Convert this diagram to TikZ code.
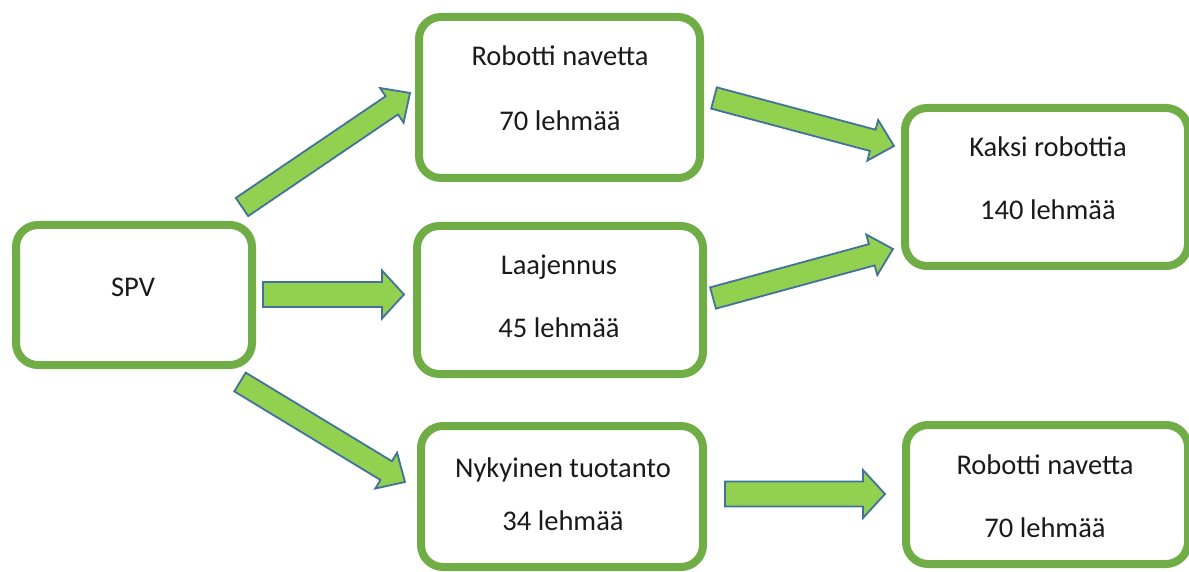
\documentclass[tikz,border=0pt]{standalone}
\usepackage{fontspec}
\setmainfont{Carlito}
\usetikzlibrary{calc}
\definecolor{boxgreen}{HTML}{70AD47}
\definecolor{arrfill}{HTML}{92D050}
\definecolor{arrline}{HTML}{41719C}
\definecolor{txt}{HTML}{1A1A1A}
\tikzset{
  box/.style={draw=boxgreen, line width=8pt, rounded corners=22pt, fill=white, inner sep=0pt, rectangle},
  lbl/.style={anchor=base, inner sep=0pt, text=txt, font=\fontsize{28.5}{34}\selectfont},
  blk/.style={draw=arrline, fill=arrfill, line width=1.8pt, line join=miter},
}
% #1 tail, #2 tip, #3 shaft half width, #4 head half width, #5 head length
\newcommand\blockarrow[5]{%
  \coordinate (#1h) at ($(#2)!#5!(#1)$);
  \draw[blk] ($(#1)!#3!90:(#2)$) -- ($(#1h)!#3!90:(#2)$) -- ($(#1h)!#4!90:(#2)$) -- (#2)
    -- ($(#1h)!#4!-90:(#2)$) -- ($(#1h)!#3!-90:(#2)$) -- ($(#1)!#3!-90:(#2)$) -- cycle;
}
\begin{document}
\begin{tikzpicture}[x=1pt,y=-1pt]
\useasboundingbox (0,0) rectangle (1189,572);
% boxes
\node[box, minimum width=236pt, minimum height=140pt] (spv) at (134,295) {};
\node[box, minimum width=281pt, minimum height=161pt] (rob1) at (559.5,97.5) {};
\node[box, minimum width=286pt, minimum height=148pt] (laa) at (560,300) {};
\node[box, minimum width=282pt, minimum height=141pt] (nyk) at (562,496.5) {};
\node[box, minimum width=283pt, minimum height=158pt] (kak) at (1046.5,187) {};
\node[box, minimum width=282pt, minimum height=139pt] (rob2) at (1047,494.5) {};
% texts
\node[lbl] (tspv) at (133,296) {SPV};
\node[lbl] (trob1a) at (560,66) {Robotti navetta};
\node[lbl] (trob1b) at (560,131) {70 lehmää};
\node[lbl] (tlaaa) at (559,274) {Laajennus};
\node[lbl] (tlaab) at (559,337) {45 lehmää};
\node[lbl] (tnyka) at (563,477) {Nykyinen tuotanto};
\node[lbl] (tnykb) at (563,530) {34 lehmää};
\node[lbl] (tkaka) at (1048,157) {Kaksi robottia};
\node[lbl] (tkakb) at (1048,220) {140 lehmää};
\node[lbl] (trob2a) at (1045,474) {Robotti navetta};
\node[lbl] (trob2b) at (1045,537) {70 lehmää};
% arrow end points
\coordinate (a1t) at (242,207); \coordinate (a1h) at (410,93);
\coordinate (a2t) at (263,294.5); \coordinate (a2h) at (404,294.5);
\coordinate (a3t) at (240,382); \coordinate (a3h) at (405,482);
\coordinate (a4t) at (714,98); \coordinate (a4h) at (894,146);
\coordinate (a5t) at (713,298); \coordinate (a5h) at (893,249);
\coordinate (a6t) at (725,494); \coordinate (a6h) at (885,494);
\blockarrow{a1t}{a1h}{11pt}{21pt}{22pt}
\blockarrow{a2t}{a2h}{12.5pt}{24pt}{22pt}
\blockarrow{a3t}{a3h}{11pt}{21pt}{22pt}
\blockarrow{a4t}{a4h}{11pt}{21pt}{22pt}
\blockarrow{a5t}{a5h}{11pt}{21pt}{22pt}
\blockarrow{a6t}{a6h}{12.5pt}{24pt}{22pt}
\end{tikzpicture}
\end{document}
